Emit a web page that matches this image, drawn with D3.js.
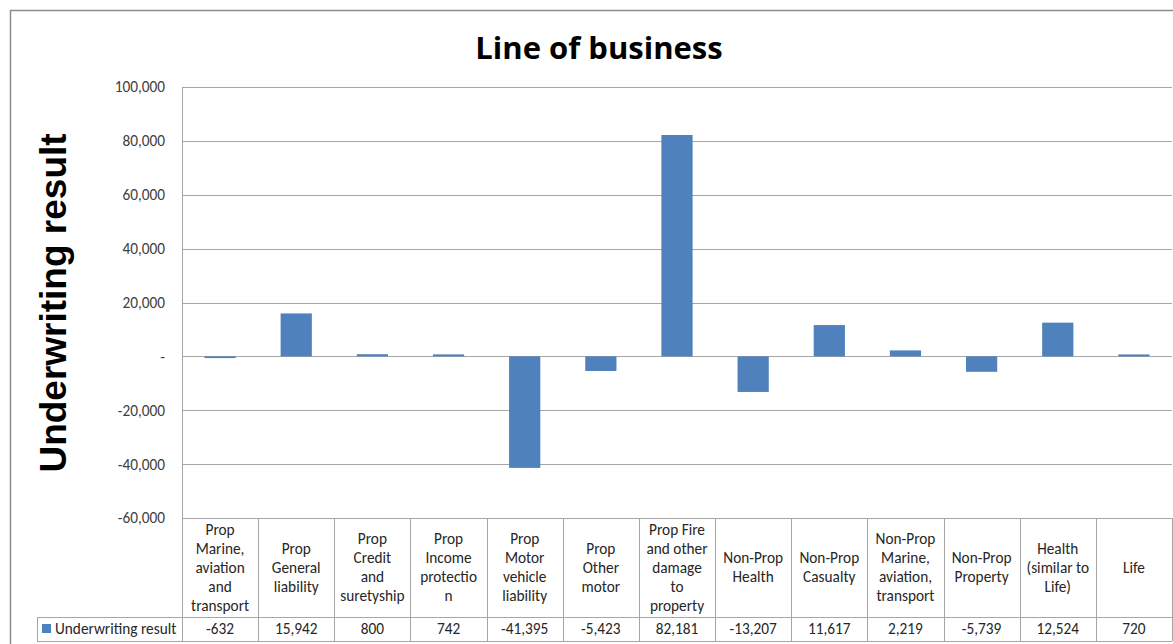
<!DOCTYPE html>
<html>
<head>
<meta charset="utf-8">
<script src="https://cdn.jsdelivr.net/npm/d3@7"></script>
<style>
  body { margin: 0; background: #fff; }
  svg text { font-family: Calibri, Lato, "Open Sans", sans-serif; }
</style>
</head>
<body>
<svg class="chart" width="1173" height="644"></svg>
<script>
// category labels, wrapped the way the table shows them
let categories = [
  'Prop|Marine,|aviation|and|transport',
  'Prop|General|liability',
  'Prop|Credit|and|suretyship',
  'Prop|Income|protectio|n',
  'Prop|Motor|vehicle|liability',
  'Prop|Other|motor',
  'Prop Fire|and other|damage|to|property',
  'Non-Prop|Health',
  'Non-Prop|Casualty',
  'Non-Prop|Marine,|aviation,|transport',
  'Non-Prop|Property',
  'Health|(similar to|Life)',
  'Life'
];
let values = [-632, 15942, 800, 742, -41395, -5423, 82181, -13207, 11617, 2219, -5739, 12524, 720];
let yTicks = [-60000, -40000, -20000, 0, 20000, 40000, 60000, 80000, 100000];
let seriesName = 'Underwriting result';

let plot = {left: 182, right: 1172, top: 87, bottom: 518};
let table = {legendLeft: 37, rowTop: 617, rowBottom: 641};
let barColor = '#4f81bd';
let lineColor = '#a6a6a6';
let fontSize = 15.3;

// excel style numbers: plain hyphen for negatives
let fmt = (d) => d3.format(',')(d).replace('\u2212', '-');

let svg = d3.select('.chart');

// outer chart frame
svg.append('rect')
  .attr('x', 10.5).attr('y', 10.5)
  .attr('width', 1200).attr('height', 700)
  .attr('fill', 'none')
  .attr('stroke', '#8c8c8c')
  .attr('stroke-width', 1.5);

let xScale = d3.scaleBand()
  .domain(categories)
  .range([plot.left, plot.right])
  .paddingInner(0.59)
  .paddingOuter(0.295);

let xCell = d3.scaleBand()
  .domain(categories)
  .range([plot.left, plot.right]);

let yScale = d3.scaleLinear()
  .domain([-60000, 100000])
  .range([plot.bottom, plot.top]);

// gridlines
svg.append('g')
  .selectAll('line')
  .data(yTicks)
  .enter()
  .append('line')
  .attr('x1', plot.left)
  .attr('x2', plot.right)
  .attr('y1', (d) => Math.round(yScale(d)) + 0.5)
  .attr('y2', (d) => Math.round(yScale(d)) + 0.5)
  .attr('stroke', lineColor);

// y axis labels (accounting format: zero shown as dash)
let yAxis = d3.axisLeft(yScale)
  .tickValues(yTicks)
  .tickSize(0)
  .tickPadding(17)
  .tickFormat((d) => d === 0 ? '-' : fmt(d));

svg.append('g')
  .attr('transform', 'translate(' + plot.left + ',0)')
  .call(yAxis)
  .call((g) => g.select('.domain').remove())
  .selectAll('text')
  .attr('fill', '#404040')
  .attr('font-size', fontSize)
  .style('font-family', 'Calibri, Lato, sans-serif');

// bars
svg.append('g')
  .selectAll('rect')
  .data(values)
  .enter()
  .append('rect')
  .attr('x', (d, i) => xScale(categories[i]))
  .attr('width', xScale.bandwidth())
  .attr('y', (d) => yScale(Math.max(0, d)))
  .attr('height', (d) => Math.abs(yScale(d) - yScale(0)))
  .attr('fill', barColor);

// data table borders
let tbl = svg.append('g')
  .attr('stroke', lineColor)
  .attr('fill', 'none');

tbl.append('line')
  .attr('x1', plot.left + 0.5).attr('x2', plot.left + 0.5)
  .attr('y1', plot.top).attr('y2', table.rowBottom);

categories.forEach((c) => {
  let xr = Math.round(xCell(c) + xCell.bandwidth()) + 0.5;
  tbl.append('line')
    .attr('x1', xr).attr('x2', xr)
    .attr('y1', plot.bottom).attr('y2', table.rowBottom);
});

tbl.append('line')
  .attr('x1', table.legendLeft).attr('x2', plot.right)
  .attr('y1', table.rowTop + 0.5).attr('y2', table.rowTop + 0.5);
tbl.append('line')
  .attr('x1', table.legendLeft).attr('x2', plot.right)
  .attr('y1', table.rowBottom + 0.5).attr('y2', table.rowBottom + 0.5);
tbl.append('line')
  .attr('x1', table.legendLeft + 0.5).attr('x2', table.legendLeft + 0.5)
  .attr('y1', table.rowTop).attr('y2', table.rowBottom);

// category headers
let headerMid = (plot.bottom + table.rowTop) / 2;
let lineH = 19;
let headers = svg.append('g')
  .selectAll('text')
  .data(categories)
  .enter()
  .append('text')
  .attr('text-anchor', 'middle')
  .attr('font-size', fontSize)
  .attr('fill', '#262626')
  .attr('transform', (d) => 'translate(' + (xCell(d) + xCell.bandwidth() / 2) + ',0)');

headers.each(function (d) {
  let lines = d.split('|');
  let y0 = headerMid - (lines.length - 1) * lineH / 2 + 5;
  d3.select(this).selectAll('tspan')
    .data(lines)
    .enter()
    .append('tspan')
    .attr('x', 0)
    .attr('y', (l, i) => y0 + i * lineH)
    .text((l) => l);
});

// value row
let rowMid = (table.rowTop + table.rowBottom) / 2 + 5;
svg.append('g')
  .selectAll('text')
  .data(values)
  .enter()
  .append('text')
  .attr('x', (d, i) => xCell(categories[i]) + xCell.bandwidth() / 2)
  .attr('y', rowMid)
  .attr('text-anchor', 'middle')
  .attr('font-size', fontSize)
  .attr('fill', '#262626')
  .text((d) => fmt(d));

// legend key in the table
svg.append('rect')
  .attr('x', 42).attr('y', rowMid - 10)
  .attr('width', 9).attr('height', 9)
  .attr('fill', barColor);
svg.append('text')
  .attr('x', 55).attr('y', rowMid)
  .attr('font-size', fontSize)
  .attr('fill', '#262626')
  .text(seriesName);

// titles
svg.append('text')
  .attr('x', 599).attr('y', 59)
  .attr('text-anchor', 'middle')
  .attr('font-size', 31)
  .attr('font-weight', 'bold')
  .style('font-family', '"Open Sans", Lato, sans-serif')
  .attr('fill', '#000')
  .text('Line of business');

svg.append('text')
  .attr('transform', 'translate(66,303) rotate(-90)')
  .attr('text-anchor', 'middle')
  .attr('font-size', 37)
  .attr('font-weight', 'bold')
  .style('font-family', 'Arial, "Liberation Sans", sans-serif')
  .attr('fill', '#000')
  .text('Underwriting result');
</script>
</body>
</html>
